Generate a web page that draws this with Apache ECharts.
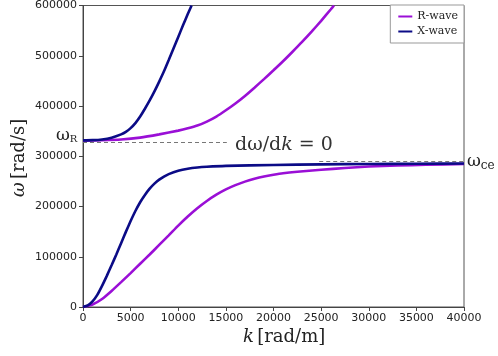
<!DOCTYPE html>
<html>
<head>
<meta charset="utf-8">
<script src="https://cdn.jsdelivr.net/npm/echarts@6/dist/echarts.min.js"></script>
<style>
  html, body { margin: 0; padding: 0; background: #fff; }
  #chart { width: 498px; height: 356px; }
</style>
</head>
<body>
<div id="chart"></div>
<script>
// k [rad/m] / omega [rad/s] points
var xLowK = [0, 500, 1000, 1500, 2000, 2500, 3000, 3500, 4000, 4500, 5000, 5500, 6000, 6500, 7000, 7500, 8000, 8500, 9000, 10000, 11000, 12000, 13000, 15000, 20000, 25000, 30000, 35000, 40000];
var xLowW = [0, 3000, 11000, 24000, 42000, 62000, 83000, 104500, 127000, 149500, 171000, 191000, 208500, 223000, 235500, 245500, 253500, 259500, 264500, 271000, 275000, 277500, 279000, 280800, 282700, 283900, 284600, 285100, 285500];
var rLowK = [0, 1000, 2000, 3000, 4000, 5000, 6000, 7000, 8000, 9000, 10000, 11000, 12000, 13000, 14000, 15000, 16000, 17000, 18000, 19000, 20000, 21000, 22500, 25000, 27500, 30000, 33000, 36000, 40000];
var rLowW = [0, 5000, 16000, 32000, 49500, 67500, 86000, 104500, 123500, 142500, 162000, 180000, 196500, 211000, 223500, 234000, 242500, 249500, 255000, 259500, 263000, 266000, 269000, 273000, 276500, 279500, 281500, 283000, 284500];
var xUpK = [0, 1000, 2000, 3000, 4000, 4500, 5000, 5500, 6000, 6500, 7000, 7500, 8000, 8500, 9000, 9500, 10000, 10500, 11000, 11400];
var xUpW = [331500, 332000, 333500, 337000, 343500, 348500, 356000, 366000, 379000, 394500, 411000, 429000, 448500, 469000, 491500, 514500, 537500, 560500, 583000, 600000];
var rUpK = [0, 2000, 4000, 6000, 8000, 10000, 11000, 12000, 13000, 14000, 15000, 16000, 17000, 18000, 19000, 20000, 21000, 22000, 23000, 24000, 25000, 26000, 26350];
var rUpW = [331000, 331700, 333200, 337000, 343500, 351000, 355500, 361000, 369000, 379000, 391500, 405000, 420000, 436500, 453500, 471000, 489000, 508000, 527500, 548000, 569500, 592000, 600000];
var omegaR = 327000, omegaRLineEnd = 15100;
var omegaCe = 289500, omegaCeLineStart = 24800;
var xTicks = { min: 0, max: 40000, interval: 5000 };
var yTicks = { min: 0, max: 600000, interval: 100000 };

function pairs(ks, ws) { return ks.map(function (k, i) { return [k, ws[i]]; }); }

var magenta = '#9a0fd6';
var navy = '#0b0b86';
var serif = 'DejaVu Serif';

var chart = echarts.init(document.getElementById('chart'));
var lineBase = { type: 'line', showSymbol: false, smooth: 0.2, clip: true, lineStyle: { width: 2.6 } };

chart.setOption({
  animation: false,
  grid: { left: 83, right: 34, top: 5, bottom: 49, show: true, borderColor: '#555', borderWidth: 1 },
  legend: {
    right: 34, top: 5, orient: 'vertical', itemWidth: 14, itemHeight: 2, itemGap: 4,
    padding: [6, 6, 6, 8], borderColor: '#999', borderWidth: 1, borderRadius: 0,
    backgroundColor: '#fff', icon: 'rect',
    textStyle: { fontFamily: serif, fontSize: 11, color: '#222' },
    data: ['R-wave', 'X-wave']
  },
  xAxis: {
    type: 'value', min: xTicks.min, max: xTicks.max, interval: xTicks.interval,
    splitLine: { show: false },
    axisLine: { lineStyle: { color: '#444' } },
    axisTick: { show: true, length: 4, lineStyle: { color: '#444' } },
    axisLabel: { fontFamily: 'DejaVu Sans', fontSize: 11, color: '#222', margin: 6, formatter: function (v) { return String(v); } }
  },
  yAxis: {
    type: 'value', min: yTicks.min, max: yTicks.max, interval: yTicks.interval,
    splitLine: { show: false },
    axisLine: { show: true, lineStyle: { color: '#444' } },
    axisTick: { show: true, length: 4, lineStyle: { color: '#444' } },
    axisLabel: { fontFamily: 'DejaVu Sans', fontSize: 11, color: '#222', margin: 6, formatter: function (v) { return String(v); } }
  },
  series: [
    Object.assign({}, lineBase, {
      name: 'R-wave', color: magenta, data: pairs(rLowK, rLowW),
      markLine: {
        silent: true, symbol: 'none',
        lineStyle: { type: [4, 3], color: '#777', width: 1 },
        label: { show: false },
        data: [
          [{ coord: [0, omegaR] }, { coord: [omegaRLineEnd, omegaR] }],
          [{ coord: [omegaCeLineStart, omegaCe] }, { coord: [xTicks.max, omegaCe] }]
        ]
      }
    }),
    Object.assign({}, lineBase, { name: 'R-wave', color: magenta, data: pairs(rUpK, rUpW) }),
    Object.assign({}, lineBase, { name: 'X-wave', color: navy, data: pairs(xLowK, xLowW) }),
    Object.assign({}, lineBase, { name: 'X-wave', color: navy, data: pairs(xUpK, xUpW) })
  ],
  graphic: [
    {
      type: 'text', left: 56, top: 127,
      style: {
        text: '{w|ω}{s|R}',
        rich: { w: { fontFamily: serif, fontSize: 17, fill: '#222' }, s: { fontFamily: serif, fontSize: 10, fill: '#222', padding: [8, 0, 0, 0] } }
      }
    },
    {
      type: 'text', left: 467, top: 153,
      style: {
        text: '{w|ω}{s|ce}',
        rich: { w: { fontFamily: serif, fontSize: 17, fill: '#222' }, s: { fontFamily: serif, fontSize: 12, fill: '#222', padding: [8, 0, 0, 0] } }
      }
    },
    {
      type: 'text', left: 235, top: 136,
      style: {
        text: '{n|dω/d}{i|k}{n| = 0}',
        rich: { n: { fontFamily: serif, fontSize: 19, fill: '#333' }, i: { fontFamily: serif, fontStyle: 'italic', fontSize: 19, fill: '#333' } }
      }
    },
    {
      type: 'text', left: 243, top: 328,
      style: {
        text: '{i|k} {n|[rad/m]}',
        rich: { n: { fontFamily: serif, fontSize: 18, fill: '#222' }, i: { fontFamily: serif, fontStyle: 'italic', fontSize: 18, fill: '#222' } }
      }
    },
    {
      type: 'text', x: 10, y: 197, rotation: Math.PI / 2,
      style: {
        text: '{i|ω} {n|[rad/s]}',
        rich: { n: { fontFamily: serif, fontSize: 18, fill: '#222' }, i: { fontFamily: serif, fontStyle: 'italic', fontSize: 18, fill: '#222' } }
      }
    }
  ]
});
</script>
</body>
</html>
